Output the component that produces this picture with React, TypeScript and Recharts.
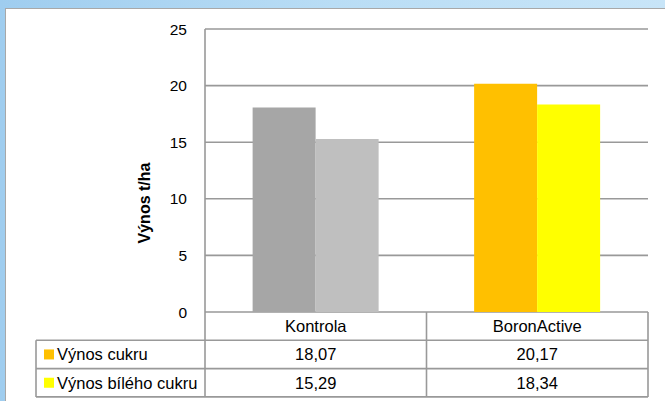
import React from 'react';
import { BarChart, Bar, XAxis, YAxis, CartesianGrid, Cell } from 'recharts';

const categories = ['Kontrola', 'BoronActive'];
const vynosCukru = [18.07, 20.17];
const vynosBilehoCukru = [15.29, 18.34];
const seriesNames = ['Výnos cukru', 'Výnos bílého cukru'];
const yTicks = [0, 5, 10, 15, 20, 25];

const cukruColors = ['#A6A6A6', '#FFC000'];
const bilehoColors = ['#BFBFBF', '#FFFF00'];

const data = categories.map((name, i) => ({
  name,
  cukr: vynosCukru[i],
  bily: vynosBilehoCukru[i],
}));

const W = 665;
const H = 401;
const plotLeft = 205;
const plotRight = 648;
const plotTop = 29;
const plotBottom = 312;
const rowH = 28.3;
const tableLeft = 36;
const lineColor = '#999999';
const lineW = 1.6;
const font = '"Liberation Sans", Arial, sans-serif';

const fmt = (v: number) => v.toFixed(2).replace('.', ',');

const App: React.FC = () => {
  const catW = (plotRight - plotLeft) / categories.length;
  const rows = [
    { name: seriesNames[0], values: vynosCukru, key: cukruColors[cukruColors.length - 1] },
    { name: seriesNames[1], values: vynosBilehoCukru, key: bilehoColors[bilehoColors.length - 1] },
  ];
  const tableBottom = plotBottom + rowH * 3;

  return (
    <div style={{ position: 'absolute', left: 0, top: 0, width: W, height: H, overflow: 'hidden', fontFamily: font }}>
      <div
        style={{
          position: 'absolute',
          inset: 0,
          background: 'linear-gradient(90deg, #9FCDEF 0%, #B9DDF5 50%, #C8E5F8 100%)',
        }}
      />
      <div
        style={{
          position: 'absolute',
          left: 5,
          top: 8,
          right: 0,
          bottom: 0,
          background: '#fff',
          borderLeft: '1px solid #A8A8A8',
          borderTop: '1px solid #A8A8A8',
        }}
      />
      <div style={{ position: 'absolute', left: 0, top: 0 }}>
        <BarChart
          width={W}
          height={H}
          data={data}
          margin={{ top: plotTop, right: W - plotRight, bottom: H - plotBottom - 28, left: plotLeft - 60 }}
          barGap={0}
          barCategoryGap="21.5%"
        >
          <CartesianGrid vertical={false} stroke={lineColor} strokeWidth={lineW} />
          <XAxis
            dataKey="name"
            height={28}
            tickLine={false}
            axisLine={false}
            tickSize={0}
            tickMargin={8}
            tick={{ fontSize: 16.5, fill: '#000', fontFamily: font }}
          />
          <YAxis
            width={60}
            domain={[0, 25]}
            ticks={yTicks}
            tickLine={false}
            tickSize={0}
            tickMargin={18}
            axisLine={{ stroke: lineColor, strokeWidth: lineW }}
            tick={{ fontSize: 15.5, fill: '#000', fontFamily: font }}
          />
          <Bar dataKey="cukr" name={seriesNames[0]} isAnimationActive={false}>
            {data.map((d, i) => (
              <Cell key={d.name} fill={cukruColors[i]} />
            ))}
          </Bar>
          <Bar dataKey="bily" name={seriesNames[1]} isAnimationActive={false}>
            {data.map((d, i) => (
              <Cell key={d.name} fill={bilehoColors[i]} />
            ))}
          </Bar>
        </BarChart>
      </div>
      <svg width={W} height={H} style={{ position: 'absolute', left: 0, top: 0, pointerEvents: 'none' }}>
        <text
          x={144}
          y={203}
          transform="rotate(-90 144 203)"
          textAnchor="middle"
          dominantBaseline="central"
          fontSize={16}
          fontWeight="bold"
          fontFamily={font}
          fill="#000"
        >
          Výnos t/ha
        </text>
        <g stroke={lineColor} strokeWidth={lineW} fill="none">
          <line x1={plotLeft} y1={plotBottom} x2={plotLeft} y2={tableBottom} />
          <line x1={plotLeft + catW} y1={plotBottom} x2={plotLeft + catW} y2={tableBottom} />
          <line x1={plotRight} y1={plotBottom} x2={plotRight} y2={tableBottom} />
          <line x1={tableLeft} y1={plotBottom + rowH} x2={tableLeft} y2={tableBottom} />
          {[1, 2, 3].map((r) => (
            <line key={r} x1={tableLeft} y1={plotBottom + rowH * r} x2={plotRight} y2={plotBottom + rowH * r} />
          ))}
        </g>
        {rows.map((row, r) => {
          const cy = plotBottom + rowH * (r + 1) + rowH / 2;
          return (
            <g key={row.name}>
              <rect x={44} y={cy - 5} width={10} height={10} fill={row.key} />
              <text x={57} y={cy} dominantBaseline="central" fontSize={16.5} fontFamily={font} fill="#000">
                {row.name}
              </text>
              {row.values.map((v, i) => (
                <text
                  key={i}
                  x={plotLeft + catW * (i + 0.5)}
                  y={cy}
                  textAnchor="middle"
                  dominantBaseline="central"
                  fontSize={16.5}
                  fontFamily={font}
                  fill="#000"
                >
                  {fmt(v)}
                </text>
              ))}
            </g>
          );
        })}
      </svg>
    </div>
  );
};

export default App;
